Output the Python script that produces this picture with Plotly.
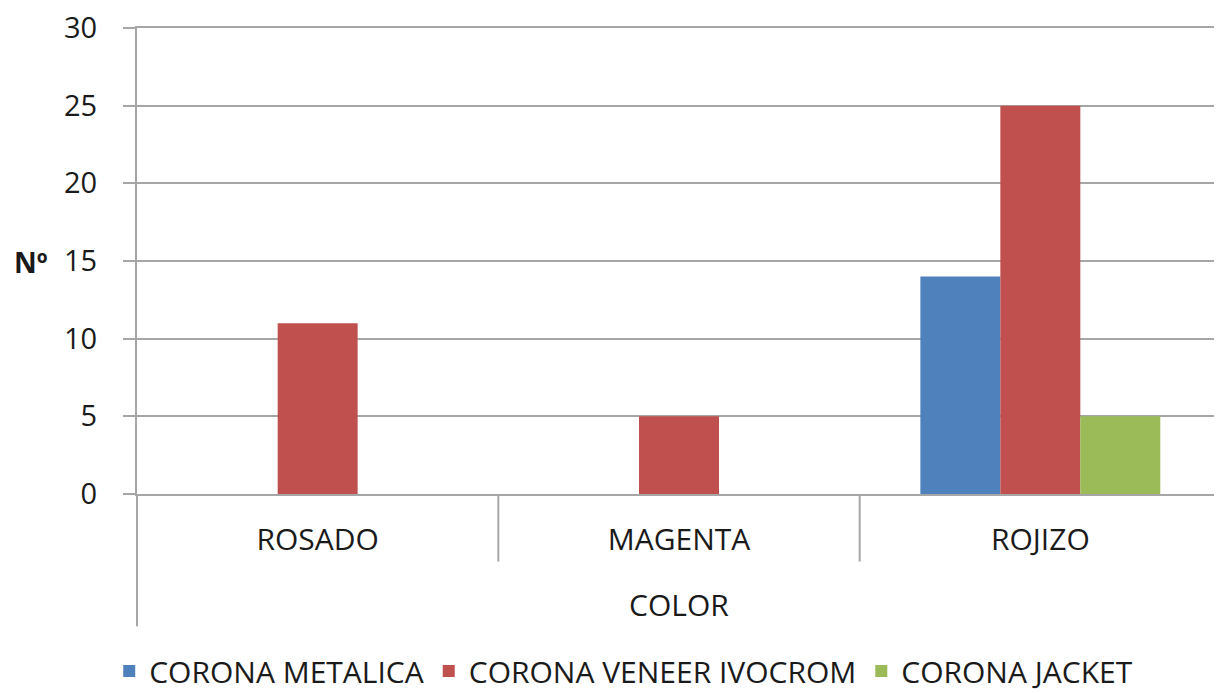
import plotly.graph_objects as go

categories = ["ROSADO", "MAGENTA", "ROJIZO"]
metalica = [0, 0, 14]
veneer = [11, 5, 25]
jacket = [0, 0, 5]
series_names = ["CORONA METALICA", "CORONA VENEER IVOCROM", "CORONA JACKET"]
y_ticks = [0, 5, 10, 15, 20, 25, 30]

FONT = "Open Sans"
GRID = "#a6a6a6"

fig = go.Figure()
for name, vals, color in zip(series_names, [metalica, veneer, jacket],
                             ["#4f81bd", "#c0504d", "#9bbb59"]):
    fig.add_trace(go.Bar(x=categories, y=vals, name=name,
                         marker=dict(color=color, line=dict(width=0))))

# category separators and outer frame below the axis
seps = []
for xv in [0.5, 1.5]:
    seps.append(dict(type="line", xref="x", yref="paper", x0=xv, x1=xv,
                     y0=0, y1=-0.145, line=dict(color=GRID, width=2)))
for xp in [0, 1]:
    seps.append(dict(type="line", xref="paper", yref="paper", x0=xp, x1=xp,
                     y0=0, y1=-0.284, line=dict(color=GRID, width=2)))

# the page body has an 8px margin, so the margins below compensate for it
fig.update_layout(
    width=1222, height=693,
    margin=dict(l=129, r=9, t=20, b=207, autoexpand=False),
    paper_bgcolor="white", plot_bgcolor="white",
    font=dict(family=FONT, size=30, color="#1a1a1a"),
    barmode="group", bargap=0.336, bargroupgap=0,
    shapes=seps,
    legend=dict(orientation="h", x=0.449, xanchor="center", y=-0.38,
                yanchor="middle", font=dict(size=30), itemwidth=30,
                traceorder="normal"),
    annotations=[
        dict(text="<b>Nº</b>", xref="paper", yref="paper", x=-0.098, y=0.497,
             xanchor="center", yanchor="middle", showarrow=False,
             font=dict(size=28)),
        dict(text="COLOR", xref="paper", yref="paper", x=0.5, y=-0.237,
             xanchor="center", yanchor="middle", showarrow=False,
             font=dict(size=30)),
    ],
)
# mirrored x line stands in for the top gridline at 30
fig.update_xaxes(showline=True, linecolor=GRID, linewidth=2, showgrid=False,
                 mirror=True, ticks="", ticklabelstandoff=18,
                 tickfont=dict(size=30))
fig.update_yaxes(range=[0, 30], tickvals=y_ticks, showgrid=True, gridcolor=GRID,
                 gridwidth=2, showline=True, linecolor=GRID, linewidth=2,
                 ticks="outside", ticklen=12, tickcolor=GRID, tickwidth=2,
                 ticklabelstandoff=20, ticklabeloverflow="allow",
                 tickfont=dict(size=29), zeroline=False)

fig.write_html("out.html")
